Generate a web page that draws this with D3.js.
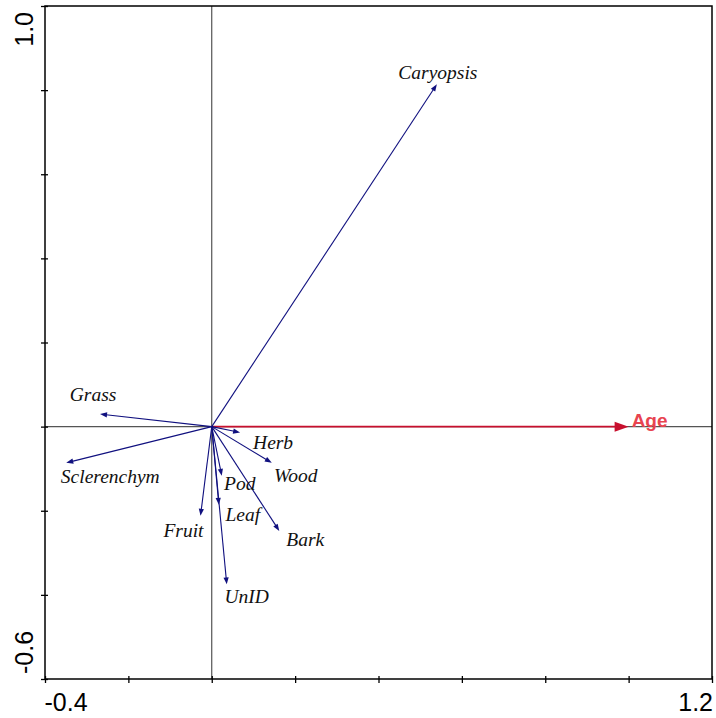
<!DOCTYPE html>
<html>
<head>
<meta charset="utf-8">
<script src="https://cdn.jsdelivr.net/npm/d3@7"></script>
<style>
  html, body { margin: 0; padding: 0; background: #fff; }
  svg { display: block; }
</style>
</head>
<body>
<svg id="chart" width="716" height="718"></svg>
<script>
// Response variables (diet components) — scores on the first two ordination axes
const species = ["Caryopsis", "Grass", "Sclerenchym", "Herb", "Wood", "Pod", "Leaf", "Bark", "Fruit", "UnID"];
const axis1 = [0.540, -0.268, -0.349, 0.068, 0.144, 0.024, 0.017, 0.162, -0.027, 0.036];
const axis2 = [0.814, 0.030, -0.086, -0.014, -0.086, -0.117, -0.186, -0.248, -0.212, -0.375];

// Explanatory variable
const envNames = ["Age"];
const envAxis1 = [1.0];
const envAxis2 = [0.0];

// Axis extents and ticks
const xDomain = [-0.4, 1.2];
const yDomain = [-0.6, 1.0];
const xTicks = [-0.4, -0.2, 0, 0.2, 0.4, 0.6, 0.8, 1.0, 1.2];
const yTicks = [-0.6, -0.4, -0.2, 0, 0.2, 0.4, 0.6, 0.8, 1.0];
const xTickLabels = ["-0.4", "1.2"];
const yTickLabels = ["-0.6", "1.0"];

// Label nudges (pixels) relative to each arrow tip: [dx, dy] to text centre / baseline
const labelNudge = {
  Caryopsis: [1, -5], Grass: [-7, -13], Sclerenchym: [44, 20], Herb: [33, 16],
  Wood: [24, 19], Pod: [18, 14], Leaf: [24, 16], Bark: [26, 15], Fruit: [-17, 21], UnID: [20, 19]
};

const svg = d3.select("#chart");
const L = 45, R = 712, T = 6, B = 679;

const x = d3.scaleLinear().domain(xDomain).range([L, R]);
const y = d3.scaleLinear().domain(yDomain).range([B, T]);

// Zero lines
svg.append("line").attr("x1", x(0)).attr("x2", x(0)).attr("y1", T).attr("y2", B)
  .attr("stroke", "#444").attr("stroke-width", 1.1);
svg.append("line").attr("x1", L).attr("x2", R).attr("y1", y(0)).attr("y2", y(0))
  .attr("stroke", "#555").attr("stroke-width", 1.2);

// Axes with ticks crossing the frame
const gx = svg.append("g").attr("transform", `translate(0,${B})`)
  .call(d3.axisBottom(x).tickValues(xTicks).tickSize(4).tickFormat(""));
const gy = svg.append("g").attr("transform", `translate(${L},0)`)
  .call(d3.axisLeft(y).tickValues(yTicks).tickSize(4).tickFormat(""));
gx.selectAll(".tick line").attr("y1", -3).attr("stroke", "#000").attr("stroke-width", 1.3);
gy.selectAll(".tick line").attr("x1", 3).attr("stroke", "#000").attr("stroke-width", 1.3);
gx.select(".domain").remove();
gy.select(".domain").remove();

// Frame
svg.append("rect").attr("x", L).attr("y", T).attr("width", R - L).attr("height", B - T)
  .attr("fill", "none").attr("stroke", "#000").attr("stroke-width", 1.5);

// End tick labels
const tickFont = "Liberation Sans, Arial, sans-serif";
svg.append("text").attr("x", x(xDomain[0]) - 0.5).attr("y", 710.5)
  .attr("text-anchor", "start").attr("font-family", tickFont).attr("font-size", 25)
  .text(xTickLabels[0]);
svg.append("text").attr("x", x(xDomain[1]) + 1).attr("y", 710.5)
  .attr("text-anchor", "end").attr("font-family", tickFont).attr("font-size", 25)
  .text(xTickLabels[1]);
svg.append("text").attr("transform", `translate(33,${y(yDomain[0]) - 5}) rotate(-90)`)
  .attr("text-anchor", "start").attr("font-family", tickFont).attr("font-size", 25)
  .text(yTickLabels[0]);
svg.append("text").attr("transform", `translate(33,${y(yDomain[1]) + 6}) rotate(-90)`)
  .attr("text-anchor", "end").attr("font-family", tickFont).attr("font-size", 25)
  .text(yTickLabels[1]);

// Arrow helper: line from origin with a filled triangular head at the tip
function arrow(g, x1, y1, color, width, headLen, headHalf) {
  const x0 = x(0), y0 = y(0);
  const dx = x1 - x0, dy = y1 - y0, len = Math.hypot(dx, dy);
  const ux = dx / len, uy = dy / len;
  const bx = x1 - ux * headLen, by = y1 - uy * headLen;
  g.append("line").attr("x1", x0).attr("y1", y0).attr("x2", bx + ux).attr("y2", by + uy)
    .attr("stroke", color).attr("stroke-width", width);
  g.append("path")
    .attr("d", `M${x1},${y1}L${bx - uy * headHalf},${by + ux * headHalf}L${bx + uy * headHalf},${by - ux * headHalf}Z`)
    .attr("fill", color);
}

// Environmental variable arrow
const envG = svg.append("g");
envNames.forEach((n, i) => {
  const tx = x(envAxis1[i]), ty = y(envAxis2[i]);
  arrow(envG, tx, ty, "#c8102e", 1.6, 14, 5);
  envG.append("text").attr("x", tx + 3).attr("y", ty)
    .attr("font-family", "Liberation Sans, Arial, sans-serif").attr("font-weight", "bold")
    .attr("font-size", 19).attr("fill", "#e8444f").text(n);
});

// Species arrows
const spG = svg.append("g");
species.forEach((n, i) => {
  const tx = x(axis1[i]), ty = y(axis2[i]);
  arrow(spG, tx, ty, "#10107f", 1.1, 7, 2.6);
});
species.forEach((n, i) => {
  const tx = x(axis1[i]), ty = y(axis2[i]);
  const [ddx, ddy] = labelNudge[n];
  spG.append("text").attr("x", tx + ddx).attr("y", ty + ddy)
    .attr("text-anchor", "middle")
    .attr("font-family", "Liberation Serif, Times New Roman, serif").attr("font-style", "italic")
    .attr("font-size", 19.5).attr("fill", "#111").text(n);
});
</script>
</body>
</html>
